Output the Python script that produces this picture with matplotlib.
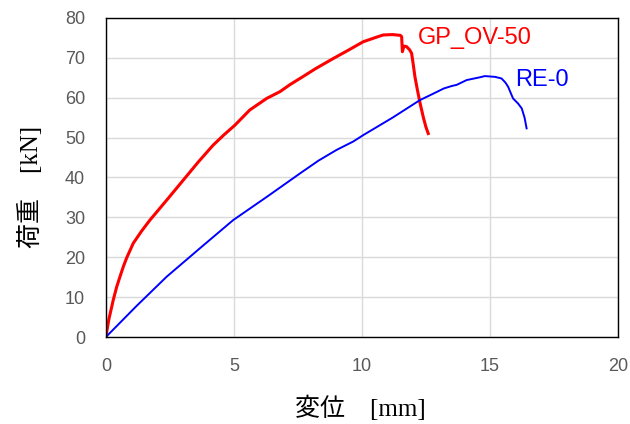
import matplotlib.pyplot as plt
import numpy as np

# GP_OV-50 curve (displacement mm, load kN)
gp_x = [0, 0.12, 0.29, 0.42, 0.55, 0.68, 0.81, 1.07, 1.4, 1.72, 2.4, 3.02, 3.6, 4.19, 4.6,
        5.04, 5.62, 6.28, 6.8, 7.2, 7.58, 8.2, 8.88, 9.5, 10.05, 10.5, 10.83, 11.2, 11.5,
        11.55, 11.58, 11.64, 11.74, 11.86, 11.94, 12.0, 12.07, 12.17, 12.27, 12.4, 12.5, 12.59]
gp_y = [0, 4.5, 9.3, 12.5, 15.1, 17.6, 19.8, 23.5, 26.6, 29.3, 34.5, 39.3, 43.8, 48.1, 50.6,
        53.1, 56.9, 59.8, 61.5, 63.3, 64.8, 67.3, 69.8, 72.0, 74.0, 75.0, 75.7, 75.8, 75.6,
        75.3, 71.5, 72.9, 72.8, 72.0, 71.1, 68.5, 65.2, 61.8, 58.6, 55.0, 52.6, 51.0]

# RE-0 curve
re_x = [0, 1.2, 2.37, 3.7, 4.97, 6.3, 7.58, 8.3, 9.01, 9.66, 10.05, 11.2, 12.27, 12.66, 13.2,
        13.5, 13.7, 14.09, 14.61, 14.8, 15.2, 15.45, 15.6, 15.71, 15.9, 16.1, 16.24, 16.35, 16.43]
re_y = [0, 7.8, 15.1, 22.4, 29.3, 35.2, 41.0, 44.2, 46.9, 49.0, 50.6, 55.0, 59.4, 60.6, 62.3,
        62.9, 63.2, 64.4, 65.1, 65.4, 65.2, 64.8, 63.8, 62.7, 59.8, 58.5, 57.3, 55.0, 52.3]

jp = ['Liberation Serif', 'Noto Sans CJK JP']

fig = plt.figure(figsize=(6.3, 4.24), dpi=100)
ax = fig.add_axes([0.168, 0.205, 0.813, 0.753])

ax.plot(gp_x, gp_y, color='#ff0000', linewidth=2.2)
ax.plot(re_x, re_y, color='#0000ff', linewidth=1.4)

ax.text(12.2, 74.9, 'GP_OV-50', color='#ff0000', fontsize=17,
        family='Liberation Sans', va='center', ha='left')
ax.text(16.0, 64.3, 'RE-0', color='#0000ff', fontsize=17,
        family='Liberation Sans', va='center', ha='left')

ax.set_xlim(0, 20)
ax.set_ylim(0, 80)
ax.set_xticks(np.arange(0, 21, 5))
ax.set_yticks(np.arange(0, 81, 10))
ax.grid(True, color='#d9d9d9', linewidth=1)
ax.set_axisbelow(True)
ax.tick_params(length=0, labelsize=13, labelcolor='#595959', pad=15)
for lab in ax.get_xticklabels() + ax.get_yticklabels():
    lab.set_family('Liberation Sans')
for s in ax.spines.values():
    s.set_color('#000000')
    s.set_linewidth(1.0)

ax.set_xlabel('変位\u3000[mm]', family=jp, fontsize=18, va='center')
ax.set_ylabel('荷重\u3000[kN]', family=jp, fontsize=18, va='center')
ax.xaxis.set_label_coords(0.496, -0.223)
ax.yaxis.set_label_coords(-0.148, 0.47)

plt.savefig('out.png', dpi=100)
